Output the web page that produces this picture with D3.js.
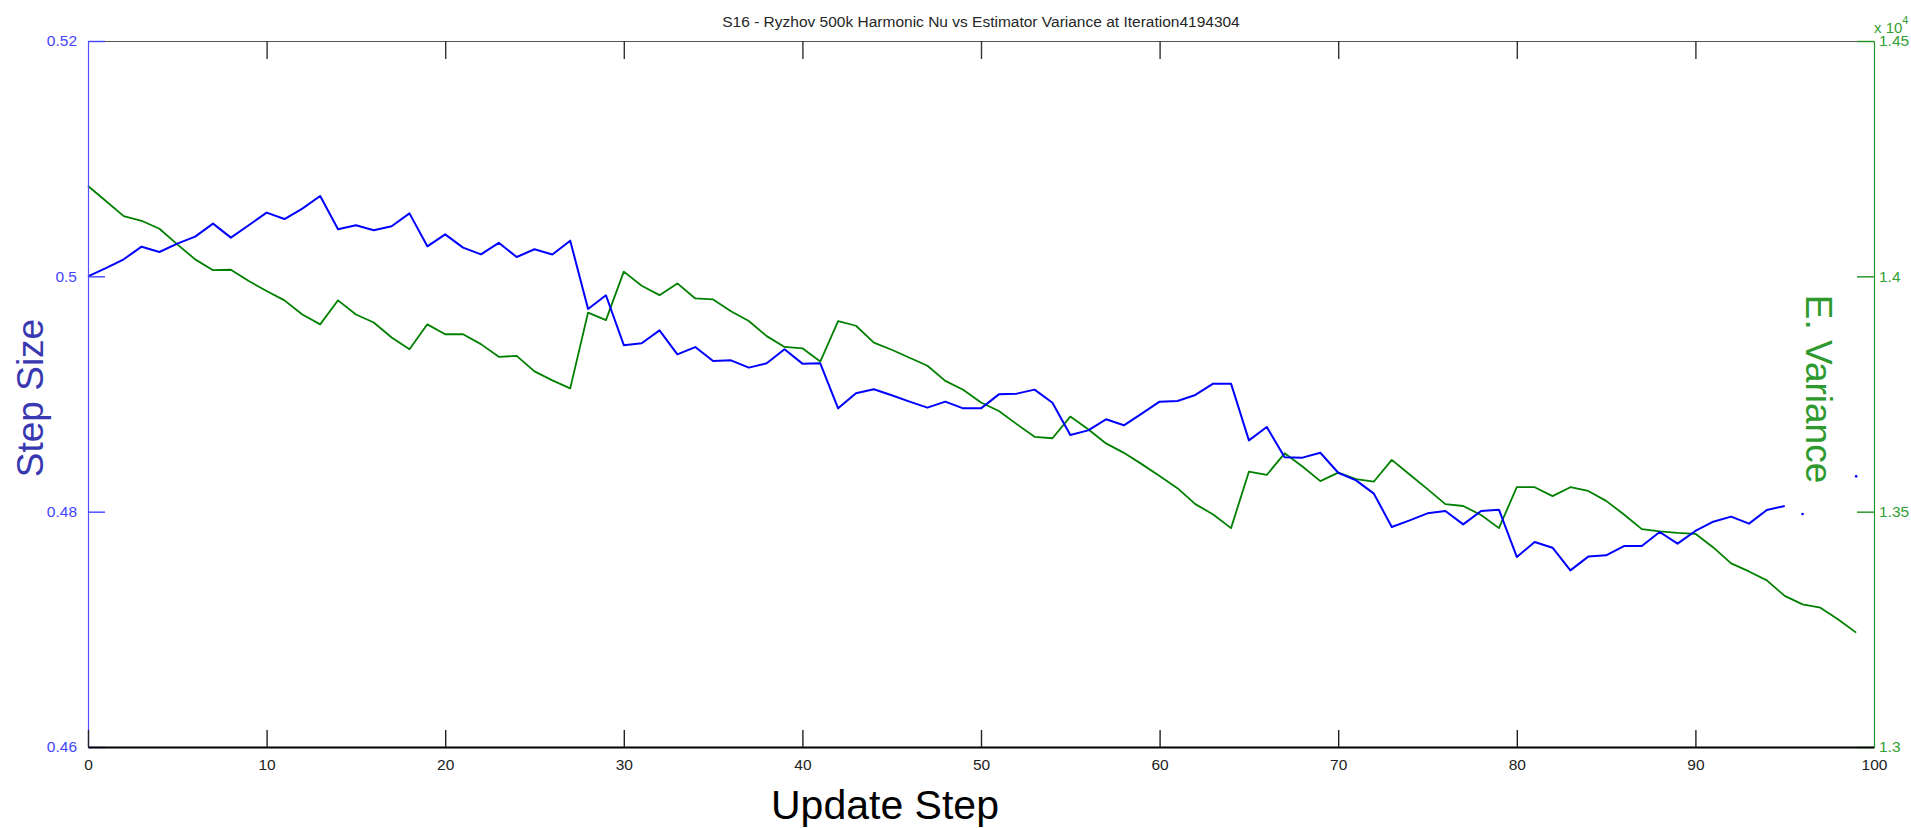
<!DOCTYPE html>
<html>
<head>
<meta charset="utf-8">
<script src="https://cdn.jsdelivr.net/npm/d3@7"></script>
<style>
  body { margin: 0; background: #fff; }
  svg { display: block; font-family: "Liberation Sans", Arial, Helvetica, sans-serif; }
</style>
</head>
<body>
<div id="chart"></div>
<script>

// step size per update step (0..95)
var stepSize = [
  0.5000, 0.5007, 0.50145, 0.50252, 0.50207, 0.50278, 0.50337, 0.50448, 0.50329, 0.50434,
  0.50541, 0.50487, 0.50575, 0.50683, 0.50400, 0.50434, 0.50391, 0.50426, 0.50535, 0.50255,
  0.50357, 0.50244, 0.50187, 0.50285, 0.50164, 0.50230, 0.50186, 0.50303, 0.49722, 0.49839,
  0.49415, 0.49431, 0.49541, 0.49337, 0.49399, 0.49280, 0.49286, 0.49224, 0.49261, 0.49380,
  0.49258, 0.49261, 0.48878, 0.49006, 0.49040, 0.48989, 0.48935, 0.48884, 0.48935, 0.48878,
  0.48878, 0.48997, 0.49003, 0.49037, 0.48926, 0.48652, 0.48691, 0.48785, 0.48734, 0.48833,
  0.48935, 0.48941, 0.48992, 0.49088, 0.49088, 0.48606, 0.48720, 0.48463, 0.48459, 0.48501,
  0.48331, 0.48266, 0.48153, 0.47870, 0.47926, 0.47986, 0.48006, 0.47892, 0.48006, 0.48017,
  0.47615, 0.47742, 0.47694, 0.47501, 0.47618, 0.47629, 0.47708, 0.47708, 0.47827, 0.47728,
  0.47836, 0.47915, 0.47958, 0.47898, 0.48014, 0.48048
];

// stray blue points after the line breaks off
var stepSizeTail = [
  { step: 96, value: 0.4798 },
  { step: 99, value: 0.4830 }
];

// estimator variance per update step (0..99), green line
var variance = [
  14192, 14160, 14128, 14118, 14101, 14068, 14036, 14013, 14014, 13990,
  13969, 13949, 13919, 13898, 13949, 13919, 13902, 13870, 13845, 13898,
  13877, 13877, 13856, 13829, 13831, 13798, 13779, 13762, 13923, 13907,
  14010, 13980, 13960, 13985, 13953, 13951, 13926, 13905, 13873, 13850,
  13847, 13819, 13905, 13895, 13859, 13844, 13827, 13810, 13778, 13759,
  13732, 13714, 13686, 13659, 13656, 13702, 13675, 13645, 13625, 13601,
  13576, 13550, 13516, 13494, 13465, 13585, 13578, 13624, 13596, 13565,
  13583, 13569, 13564, 13610, 13579, 13548, 13516, 13512, 13493, 13465,
  13552, 13552, 13533, 13552, 13544, 13523, 13494, 13463, 13458, 13455,
  13453, 13424, 13390, 13373, 13354, 13321, 13303, 13296, 13271, 13243
];

var xTicks = [0, 10, 20, 30, 40, 50, 60, 70, 80, 90, 100];
var leftTicks = [0.46, 0.48, 0.5, 0.52];
var rightTicks = [13000, 13500, 14000, 14500];

var chartTitle = "S16 - Ryzhov 500k Harmonic Nu vs Estimator Variance at Iteration4194304";


// SETUP CHART
const width = 1911;
const height = 828;
const margins = { top: 41, right: 37, bottom: 81, left: 88 };
const graphWidth = width - margins.left - margins.right;
const graphHeight = height - margins.top - margins.bottom;

const blue = "#0000ff";
const green = "#008000";

const svg = d3
  .select("#chart")
  .append("svg")
  .attr("width", width)
  .attr("height", height);

svg.append("rect").attr("width", width).attr("height", height).attr("fill", "#fff");

const graph = svg
  .append("g")
  .attr("transform", `translate(${margins.left},${margins.top})`);

// scales
const x = d3.scaleLinear().domain([0, 100]).range([0, graphWidth]);
const yLeft = d3.scaleLinear().domain([0.46, 0.52]).range([graphHeight, 0]);
const yRight = d3.scaleLinear().domain([13000, 14500]).range([graphHeight, 0]);

// lines
const stepLine = d3.line()
  .x((d, i) => x(i))
  .y(d => yLeft(d));

const varLine = d3.line()
  .x((d, i) => x(i))
  .y(d => yRight(d));

graph.append("path")
  .datum(variance)
  .attr("fill", "none")
  .attr("stroke", green)
  .attr("stroke-width", 1.8)
  .attr("stroke-linejoin", "round")
  .attr("d", varLine);

graph.append("path")
  .datum(stepSize)
  .attr("fill", "none")
  .attr("stroke", blue)
  .attr("stroke-width", 2)
  .attr("stroke-linejoin", "round")
  .attr("d", stepLine);

graph.selectAll(".tail")
  .data(stepSizeTail)
  .enter()
  .append("circle")
  .attr("class", "tail")
  .attr("cx", d => x(d.step))
  .attr("cy", d => yLeft(d.value))
  .attr("r", 1.3)
  .attr("fill", blue);

// axes - ticks point inward like the matlab box
const xAxisBottom = d3.axisBottom(x)
  .tickValues(xTicks)
  .tickSizeInner(-17)
  .tickSizeOuter(0)
  .tickPadding(12)
  .tickFormat(d => d);

const xAxisTop = d3.axisTop(x)
  .tickValues(xTicks.filter(d => d > 0 && d < 100))
  .tickSizeInner(-18)
  .tickSizeOuter(0)
  .tickFormat("");

const yAxisLeft = d3.axisLeft(yLeft)
  .tickValues(leftTicks)
  .tickSizeInner(-17)
  .tickSizeOuter(0)
  .tickPadding(11)
  .tickFormat(d => String(d));

const yAxisRight = d3.axisRight(yRight)
  .tickValues(rightTicks)
  .tickSizeInner(-17)
  .tickSizeOuter(0)
  .tickPadding(5)
  .tickFormat(d => String(d / 10000));

const topGroup = graph.append("g").call(xAxisTop);
topGroup.select(".domain").attr("stroke", "#555").attr("stroke-width", 1.2);
topGroup.selectAll(".tick line").attr("stroke", "#333").attr("stroke-width", 1.4);

const leftGroup = graph.append("g").call(yAxisLeft);
leftGroup.select(".domain").attr("stroke", "#5050ff").attr("stroke-width", 1.2);
leftGroup.selectAll(".tick line").attr("stroke", "#4444ff").attr("stroke-width", 1.4);
leftGroup.selectAll(".tick text")
  .attr("fill", "#4444ff")
  .attr("font-size", 15.5)
  .attr("font-family", "Liberation Sans, Arial, sans-serif");

const rightGroup = graph.append("g")
  .attr("transform", `translate(${graphWidth},0)`)
  .call(yAxisRight);
rightGroup.select(".domain").attr("stroke", "#229922").attr("stroke-width", 1.2);
rightGroup.selectAll(".tick line").attr("stroke", "#1f8f1f").attr("stroke-width", 1.4);
rightGroup.selectAll(".tick text")
  .attr("fill", "#33a033")
  .attr("font-size", 15.5)
  .attr("font-family", "Liberation Sans, Arial, sans-serif");

const bottomGroup = graph.append("g")
  .attr("transform", `translate(0,${graphHeight})`)
  .call(xAxisBottom);
bottomGroup.select(".domain").attr("stroke", "#000").attr("stroke-width", 2.2);
bottomGroup.selectAll(".tick line").attr("stroke", "#222").attr("stroke-width", 1.4)
  .filter(d => d == 100).remove();
bottomGroup.selectAll(".tick text")
  .attr("fill", "#222")
  .attr("font-size", 15.5)
  .attr("font-family", "Liberation Sans, Arial, sans-serif");

// x 10^4 multiplier over right axis
const expo = svg.append("text")
  .attr("x", margins.left + graphWidth)
  .attr("y", 33)
  .attr("fill", "#33a033")
  .attr("font-size", 15);
expo.append("tspan").text("x 10");
expo.append("tspan").attr("dy", -9).attr("font-size", 11).text("4");

// title
svg.append("text")
  .attr("x", margins.left + graphWidth / 2)
  .attr("y", 27)
  .attr("text-anchor", "middle")
  .attr("fill", "#262626")
  .attr("font-size", 15.5)
  .text(chartTitle);

// axis labels
svg.append("text")
  .attr("transform", "translate(43,398) rotate(-90)")
  .attr("text-anchor", "middle")
  .attr("fill", "#3838b0")
  .attr("font-size", 37)
  .text("Step Size");

svg.append("text")
  .attr("transform", "translate(1806,389) rotate(90)")
  .attr("text-anchor", "middle")
  .attr("fill", "#2e9a2e")
  .attr("font-size", 37)
  .text("E. Variance");

svg.append("text")
  .attr("x", 885)
  .attr("y", 819)
  .attr("text-anchor", "middle")
  .attr("fill", "#000")
  .attr("font-size", 41)
  .text("Update Step");

</script>
</body>
</html>
